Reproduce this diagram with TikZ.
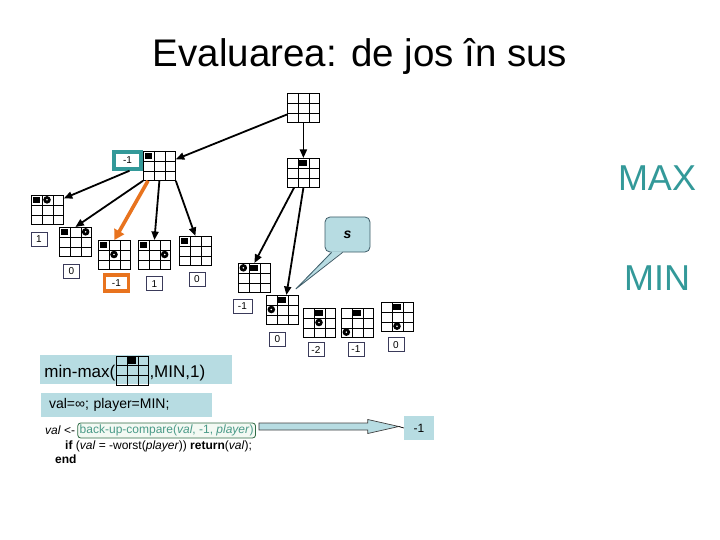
\documentclass[tikz,border=0pt]{standalone}
\usepackage{fontspec}
\setmainfont{Liberation Sans}
\usetikzlibrary{arrows.meta, positioning, calc}
\definecolor{clrTeal}{HTML}{339999}
\definecolor{clrOrange}{HTML}{E8731E}
\definecolor{clrPale}{HTML}{B7DCE2}
\definecolor{clrFrame}{HTML}{3A3A5A}
\definecolor{clrBubble}{HTML}{3C5A66}
\definecolor{clrGreen}{HTML}{2F6B45}
\definecolor{clrCall}{HTML}{4A9A88}
\definecolor{clrCallBg}{HTML}{F3F9F3}
\tikzset{
  board/.style = {rectangle, draw, line width=0.8pt, minimum width=32pt, minimum height=29pt,
                  inner sep=0pt, anchor=north west},
  score/.style = {rectangle, draw=clrFrame, line width=0.7pt, fill=white, minimum width=16pt,
                  minimum height=14pt, inner sep=1pt, font=\fontsize{10}{12}\selectfont},
  ply/.style = {-{Triangle[length=8.5pt,width=7pt]}, line width=1.8pt},
  hot/.style = {-{Triangle[length=10pt,width=11pt]}, line width=3.6pt, draw=clrOrange, fill=clrOrange},
  side/.style = {font=\fontsize{36}{40}\selectfont, text=clrTeal, anchor=base},
}
% board with its grid, anchored at the top left corner
\newcommand{\drawboard}[3]{%
  \node[board] (#1) at (#2,#3) {};
  \foreach \k in {1,2} {
    \draw[line width=0.6pt] ($(#1.north west)!\k/3!(#1.north east)$) -- ($(#1.south west)!\k/3!(#1.south east)$);
    \draw[line width=0.6pt] ($(#1.north west)!\k/3!(#1.south west)$) -- ($(#1.north east)!\k/3!(#1.south east)$);
  }
}
\newcommand{\xcell}[3]{\fill ($(#1.north west)+({(#2-1)*32/3+1.8},{(#3-1)*29/3+1.6})$) rectangle ++(7.2,6.6);}
\newcommand{\ocell}[3]{%
  \fill ($(#1.north west)+({(#2-0.5)*32/3},{(#3-0.5)*29/3})$) circle (3.8pt);
  \fill[white] ($(#1.north west)+({(#2-0.5)*32/3},{(#3-0.5)*29/3})$) circle (0.9pt);}

\begin{document}
\begin{tikzpicture}[x=1pt, y=-1pt,
  bubble/.style = {rectangle, rounded corners=5pt, draw=clrBubble, fill=clrPale, line width=0.8pt,
                   minimum width=45pt, minimum height=35pt, font=\fontsize{14}{16}\selectfont\bfseries\itshape},
  panel/.style = {rectangle, fill=clrPale, inner sep=0pt},
  code/.style = {font=\fontsize{12}{14}\selectfont, inner sep=1pt, anchor=west},
  call/.style = {rectangle, rounded corners=3pt, draw=clrGreen, line width=0.8pt, fill=clrCallBg,
                 text=clrCall, inner xsep=2pt, inner ysep=1.5pt, minimum height=15pt,
                 font=\fontsize{12}{14}\selectfont},
  bigarrow/.style = {draw=black!75, fill=clrPale, line width=0.7pt},
]
  \useasboundingbox (0,0) rectangle (720,540);

  \node[font=\fontsize{38.5}{42}\selectfont, anchor=base] (Title) at (360,67) {Evaluarea: de jos în sus};
  \node[side] (Max) at (657,191) {MAX};
  \node[side] (Min) at (657,290) {MIN};

  % Root and the two MAX moves
  \drawboard{R}{287}{93}
  \drawboard{A}{143}{151}  \xcell{A}{1}{1}
  \drawboard{B}{287}{158}  \xcell{B}{2}{1}

  % MIN replies under A
  \drawboard{C1}{31}{195}  \xcell{C1}{1}{1} \ocell{C1}{2}{1}
  \drawboard{C2}{59}{227}  \xcell{C2}{1}{1} \ocell{C2}{3}{1}
  \drawboard{C3}{98}{240}  \xcell{C3}{1}{1} \ocell{C3}{2}{2}
  \drawboard{C4}{138}{240} \xcell{C4}{1}{1} \ocell{C4}{3}{2}
  \drawboard{C5}{179}{236} \xcell{C5}{1}{1}

  % MIN replies under B
  \drawboard{D1}{238}{263} \xcell{D1}{2}{1} \ocell{D1}{1}{1}
  \drawboard{D2}{266}{295} \xcell{D2}{2}{1} \ocell{D2}{1}{2}
  \drawboard{E1}{303}{308} \xcell{E1}{2}{1} \ocell{E1}{2}{2}
  \drawboard{E2}{341}{308} \xcell{E2}{2}{1} \ocell{E2}{1}{3}
  \drawboard{E3}{381}{302} \xcell{E3}{2}{1} \ocell{E3}{2}{3}

  % Backed-up values
  \node[score, draw=clrTeal, line width=3.5pt, minimum width=27pt, minimum height=17pt] (lA) at (127.5,160.5) {-1};
  \node[score, below=7pt of C1, xshift=-8.5pt] (lC1) {1};
  \node[score, below=7pt of C2, xshift=-4pt]   (lC2) {0};
  \node[score, draw=clrOrange, line width=3.5pt, minimum width=24pt, minimum height=16pt,
        below=3.5pt of C3, xshift=2pt] (lC3) {-1};
  \node[score, below=6.5pt of C4] (lC4) {1};
  \node[score, below=6pt of C5, xshift=1.5pt]   (lC5) {0};
  \node[score, below=6pt of D1, xshift=-12pt, minimum width=19pt] (lD1) {-1};
  \node[score, below=7pt of D2, xshift=-5pt]    (lD2) {0};
  \node[score, below=4.5pt of E1, xshift=-3.5pt] (lE1) {-2};
  \node[score, below=4pt of E2, xshift=-1.5pt]  (lE2) {-1};
  \node[score, below=5.5pt of E3, xshift=-1.5pt] (lE3) {0};

  % Moves
  \draw[ply] (R) -- (A);
  \draw[ply] (R) -- (B);
  \draw[ply] ([xshift=2pt]lA.south) -- (C1.35);
  \draw[ply] (A.south west) -- (C2.north);
  \draw[hot] ([xshift=5pt]A.south west) -- (C3.north);
  \draw[ply] (A.south) -- (C4.north);
  \draw[ply] (A.south east) -- (C5.north);
  \draw[ply] ([xshift=7pt]B.south west) -- (D1.north);
  \draw[ply] (B.south) -- ([xshift=4pt]D2.north);

  % Current state callout
  \node[bubble] (Bub) at (347.5,234.5) {s};
  \coordinate (Tip) at ($(D2.north east)+(-3,-6)$);
  \fill[clrPale] ([xshift=7pt,yshift=1pt]Bub.south west) -- (Tip) -- ([xshift=18pt,yshift=1pt]Bub.south west) -- cycle;
  \draw[clrBubble, line width=0.8pt] ([xshift=7pt]Bub.south west) -- (Tip) -- ([xshift=18pt]Bub.south west);

  % Call and code
  \node[panel, minimum width=192pt, minimum height=29pt] (MMbox) at (136,369.5) {};
  \drawboard{MB}{116}{355.5} \xcell{MB}{2}{1}
  \node[font=\fontsize{17}{20}\selectfont, inner sep=0.5pt, anchor=base east] (MMl) at ([yshift=7.5pt]MB.south west) {min-max(};
  \node[font=\fontsize{17}{20}\selectfont, inner sep=0.5pt, anchor=base west] (MMr) at ([yshift=7.5pt]MB.south east) {,MIN,1)};

  \node[panel, text width=155pt, inner xsep=8pt, minimum height=24pt, align=left,
        font=\fontsize{14}{16}\selectfont] (Init) at (126.5,405) {val=∞; player=MIN;};

  \node[code] (Line1) at (44,430.5) {\textit{val} <-};
  \node[call, right=1pt of Line1] (Call) {back-up-compare(\textit{val}, -1, \textit{player})};
  \node[code] (Line2) at (64,446) {\textbf{if} (\textit{val} = -worst(\textit{player})) \textbf{return}(\textit{val});};
  \node[code] (Line3) at (54,459) {\textbf{end}};

  % Result
  \node[panel, minimum width=30pt, minimum height=24pt, font=\fontsize{12}{14}\selectfont] (Res) at (419,428) {-1};
  \coordinate (ArrS) at ([xshift=3pt,yshift=4pt]Call.east);
  \coordinate (ArrE) at ([xshift=-5pt,yshift=1.5pt]Res.west);
  \draw[bigarrow] ([yshift=3.5pt]ArrS) -- ([xshift=-31pt,yshift=3.5pt]ArrE) -- ([xshift=-31pt,yshift=7pt]ArrE)
    -- (ArrE) -- ([xshift=-31pt,yshift=-7pt]ArrE) -- ([xshift=-31pt,yshift=-3.5pt]ArrE)
    -- ([yshift=-3.5pt]ArrS) -- cycle;
  \draw[line width=0.7pt] (ArrE) -- (Res.west);

\end{tikzpicture}
\end{document}
